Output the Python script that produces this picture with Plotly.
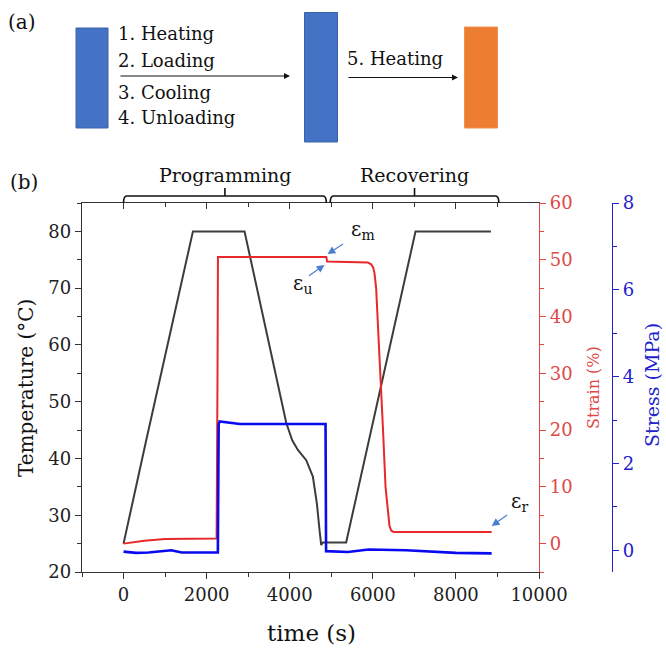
import plotly.graph_objects as go

# ---------------- data ----------------
t_temp = [0, 546, 1670, 2912, 3916, 4060, 4196, 4397, 4557, 4653, 4717, 4758, 4800, 5358, 7028, 8843]
temp = [25, 43.2, 80, 80, 46.3, 43.2, 41.5, 39.7, 36.8, 32.1, 27.4, 24.75, 25.2, 25.2, 80, 80]

t_strain = [0, 500, 1000, 2240, 2262, 2272, 4880, 4900, 5880, 5960, 6010, 6041, 6080, 6121, 6178, 6242,
            6306, 6362, 6400, 6442, 6500, 8860]
strain = [0.0, 0.5, 0.8, 0.9, 30, 50.5, 50.5, 49.7, 49.5, 49.2, 48.6, 47.6, 45.0, 39.4, 30.6, 20.6,
          10.0, 5.3, 3.2, 2.3, 2.05, 2.05]

t_stress = [0, 300, 600, 1150, 1400, 2270, 2290, 2313, 2800, 4862, 4875, 5350, 5400, 5900, 6800, 8000, 8860]
stress = [-0.03, -0.06, -0.05, 0.0, -0.05, -0.05, 2.9, 2.97, 2.91, 2.91, -0.02, -0.05, -0.04, 0.02, 0.0, -0.06, -0.07]

x_ticks = [0, 2000, 4000, 6000, 8000, 10000]
x_labels = ["0", "2000", "4000", "6000", "8000", "10000"]
temp_ticks = [20, 30, 40, 50, 60, 70, 80]
strain_ticks = [0, 10, 20, 30, 40, 50, 60]
stress_ticks = [0, 2, 4, 6, 8]

phases = ["Programming", "Recovering"]
phase_start = [0, 4975]
phase_end = [4880, 9033]

steps_left = ["1. Heating", "2. Loading", "3. Cooling", "4. Unloading"]
step_right = "5. Heating"

# ---------------- styling ----------------
W, H = 666, 652
FONT = "DejaVu Serif"
C_T = "#3c3c3c"
C_S = "#e8282a"
C_P = "#0a0af0"
C_SAX = "#e04848"
C_PAX = "#2222cc"
BLUE_BOX = "#4472C4"
ORANGE_BOX = "#ED7D31"


def px(x):
    return x / W


def py(y):
    return 1 - y / H


X0, X1 = 82, 539
Y0, Y1 = 203, 572

fig = go.Figure()
fig.add_trace(go.Scatter(x=t_temp, y=temp, mode="lines", line=dict(color=C_T, width=2), yaxis="y", showlegend=False))
fig.add_trace(go.Scatter(x=t_strain, y=strain, mode="lines", line=dict(color=C_S, width=2),
                         yaxis="y2", showlegend=False))
fig.add_trace(go.Scatter(x=t_stress, y=stress, mode="lines", line=dict(color=C_P, width=2.6), yaxis="y3", showlegend=False))

tickfont = dict(family=FONT, size=18, color="#222")
fig.update_layout(
    width=W, height=H,
    margin=dict(l=0, r=0, t=0, b=0),
    paper_bgcolor="white", plot_bgcolor="white",
    xaxis=dict(domain=[px(X0), px(X1)], range=[-1000, 10000], tickvals=x_ticks, ticktext=x_labels,
               ticks="outside", ticklen=6, tickwidth=1.2, tickcolor="#333",
               minor=dict(ticks="outside", dtick=1000, tick0=0, ticklen=4, tickcolor="#333"),
               showline=True, linecolor="#333", linewidth=1.3, showgrid=False, zeroline=False,
               tickfont=tickfont, anchor="y", automargin=False),
    xaxis2=dict(domain=[px(X0), px(X1)], range=[-1000, 10000], overlaying="x", side="top",
                tickvals=x_ticks, showticklabels=False, ticks="inside", ticklen=6, tickcolor="#333",
                minor=dict(ticks="inside", dtick=1000, tick0=0, ticklen=4, tickcolor="#333"),
                showline=True, linecolor="#333", linewidth=1.3, showgrid=False, zeroline=False, anchor="y",
                automargin=False),
    yaxis=dict(domain=[py(Y1), py(Y0)], range=[20, 85], tickvals=temp_ticks,
               ticks="outside", ticklen=6, tickcolor="#333",
               minor=dict(ticks="outside", dtick=5, tick0=20, ticklen=4, tickcolor="#333"),
               showline=True, linecolor="#333", linewidth=1.3, showgrid=False, zeroline=False,
               tickfont=tickfont, anchor="x", automargin=False),
    yaxis2=dict(range=[-5, 60], overlaying="y", side="right", anchor="x", tickvals=strain_ticks,
                ticks="outside", ticklen=6, tickcolor=C_SAX,
                minor=dict(ticks="outside", dtick=5, tick0=0, ticklen=4, tickcolor=C_SAX),
                showline=True, linecolor=C_SAX, linewidth=1.3, showgrid=False, zeroline=False,
                tickfont=dict(family=FONT, size=18, color=C_SAX), automargin=False),
    yaxis3=dict(range=[-0.5, 8], overlaying="y", side="right", anchor="free", position=px(612),
                tickvals=stress_ticks, ticks="outside", ticklen=6, tickcolor=C_PAX,
                minor=dict(ticks="outside", dtick=1, tick0=0, ticklen=4, tickcolor=C_PAX),
                showline=True, linecolor=C_PAX, linewidth=1.3, showgrid=False, zeroline=False,
                tickfont=dict(family=FONT, size=18, color=C_PAX), automargin=False),
)
# dummy trace to activate xaxis2
fig.add_trace(go.Scatter(x=[None], y=[None], xaxis="x2", showlegend=False))

ann = []


def label(text, x, y, size, color="#111", angle=0, xanchor="center", xref="paper"):
    ann.append(dict(text=text, x=x, y=y, xref=xref, yref="paper", textangle=angle, showarrow=False,
                    xanchor=xanchor, yanchor="middle", font=dict(family=FONT, size=size, color=color)))


# axis titles
label("Temperature (°C)", px(26), py(388), 20, angle=-90)
label("Strain (%)", px(593), py(388), 16, color=C_SAX, angle=-90)
label("Stress (MPa)", px(652), py(385), 19, color=C_PAX, angle=-90)
label("time (s)", px(311), py(633), 23)
label("(a)", px(22), py(22), 20)
label("(b)", px(24), py(182), 20)

# phase brackets
shapes = []
yb, yh, ytip = py(203), py(196), py(188)
r = 75
for name, a, b in zip(phases, phase_start, phase_end):
    c = (a + b) / 2
    path = (f"M {a},{yb} Q {a},{yh} {a + r},{yh} L {b - r},{yh} Q {b},{yh} {b},{yb}")
    shapes.append(dict(type="path", path=path, xref="x", yref="paper", line=dict(color="#111", width=1.6)))
    shapes.append(dict(type="line", x0=c, x1=c, y0=yh, y1=ytip, xref="x", yref="paper",
                       line=dict(color="#111", width=1.6)))
    label(name, c, py(175), 19, xref="x")

# epsilon annotations
ARC = "#4a7fd0"
ann.append(dict(x=4910, y=51.0, xref="x", yref="y2", ax=17, ay=-11, text="", showarrow=True,
                arrowhead=2, arrowsize=1.3, arrowwidth=1.2, arrowcolor=ARC))
ann.append(dict(x=4838, y=49.1, xref="x", yref="y2", ax=-17, ay=12, text="", showarrow=True,
                arrowhead=2, arrowsize=1.3, arrowwidth=1.2, arrowcolor=ARC))
ann.append(dict(x=8860, y=3.1, xref="x", yref="y2", ax=17, ay=-12, text="", showarrow=True,
                arrowhead=2, arrowsize=1.3, arrowwidth=1.2, arrowcolor=ARC))
label("ε<sub>m</sub>", px(363), py(230), 20)
label("ε<sub>u</sub>", px(302), py(284), 20)
label("ε<sub>r</sub>", px(519), py(502), 20)

# diagram (a)
shapes.append(dict(type="rect", xref="paper", yref="paper", x0=px(76), x1=px(108), y0=py(128), y1=py(28),
                   fillcolor=BLUE_BOX, line=dict(color="#3a62a8", width=1)))
shapes.append(dict(type="rect", xref="paper", yref="paper", x0=px(304.5), x1=px(337.5), y0=py(142), y1=py(12.5),
                   fillcolor=BLUE_BOX, line=dict(color="#3a62a8", width=1)))
shapes.append(dict(type="rect", xref="paper", yref="paper", x0=px(464.5), x1=px(497.5), y0=py(128), y1=py(27),
                   fillcolor=ORANGE_BOX, line=dict(color="#f09050", width=1)))
ann.append(dict(x=px(290), y=py(76), ax=-(290 - 119), ay=0, xref="paper", yref="paper",
                text="", showarrow=True, arrowhead=2, arrowsize=1.2, arrowwidth=1, arrowcolor="#111"))
ann.append(dict(x=px(458), y=py(77.5), ax=-(458 - 347), ay=0, xref="paper", yref="paper",
                text="", showarrow=True, arrowhead=2, arrowsize=1.2, arrowwidth=1, arrowcolor="#111"))
for txt, yc in zip(steps_left, [33, 60, 92.5, 117.5]):
    label(txt, px(116), py(yc), 18, xanchor="left")
label(step_right, px(344.5), py(58.5), 18, xanchor="left")

fig.update_layout(annotations=ann, shapes=shapes)
fig.write_html("out.html")
